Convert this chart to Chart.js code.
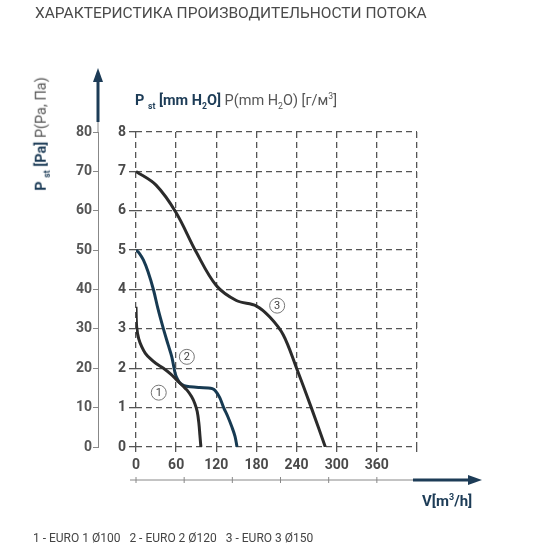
<!DOCTYPE html>
<html>
<head>
<meta charset="utf-8">
<script src="https://cdn.jsdelivr.net/npm/chart.js@4.4.1/dist/chart.umd.min.js"></script>
<style>
  html, body { margin: 0; padding: 0; background: #fff; }
  #wrap { position: relative; width: 550px; height: 550px; font-family: Roboto, "Noto Sans", sans-serif; }
  #wrap canvas { position: absolute; left: 0; top: 0; }
  .lbl { position: absolute; white-space: nowrap; line-height: 1; }
  .navy { color: #1d3c57; font-weight: bold; }
  .grey { color: #555; }
  #title { left: 35px; top: 6px; font-size: 15.5px; color: #4a4a4a; }
  #subtitle { left: 135px; top: 94px; font-size: 14.5px; }
  #ytitle { left: 42px; top: 134px; font-size: 14.5px; transform: translate(-50%, -50%) rotate(-90deg); }
  #vlabel { left: 422px; top: 494px; font-size: 15px; }
  #legend { left: 33px; top: 532px; font-size: 12px; color: #444; }
  sub, sup { font-size: 0.6em; line-height: 0; }
</style>
</head>
<body>
<div id="wrap">
  <canvas id="chart" width="550" height="550"></canvas>
  <div class="lbl" id="title">ХАРАКТЕРИСТИКА ПРОИЗВОДИТЕЛЬНОСТИ ПОТОКА</div>
  <div class="lbl" id="subtitle"><span class="navy">P <sub>st</sub> [mm H<sub>2</sub>O]</span> <span class="grey">P(mm H<sub>2</sub>O) [г/м<sup>3</sup>]</span></div>
  <div class="lbl" id="ytitle"><span class="navy">P <sub>st</sub> [Pa]</span> <span class="grey">P(Pa, Па)</span></div>
  <div class="lbl navy" id="vlabel">V[m<sup>3</sup>/h]</div>
  <div class="lbl" id="legend">1 - EURO 1 Ø100&nbsp;&nbsp; 2 - EURO 2 Ø120&nbsp;&nbsp; 3 - EURO 3 Ø150</div>
</div>
<script>
// flow in m3/h, pressure in mm H2O
const curve1Flow = [0, 1, 4, 8.5, 14, 21, 30, 41, 52, 61, 70, 76, 83, 88, 91.5, 94, 95.5, 97];
const curve1Pressure = [3.56, 3.05, 2.75, 2.55, 2.38, 2.25, 2.12, 2.0, 1.85, 1.7, 1.55, 1.45, 1.28, 1.1, 0.9, 0.6, 0.3, 0];

const curve2Flow = [0, 5, 11, 18, 26, 33, 41, 48, 53.5, 58.5, 62, 66, 72, 81, 95, 108, 114, 118.5, 125, 131, 137, 143.5, 148, 151];
const curve2Pressure = [5.0, 4.92, 4.75, 4.45, 4.0, 3.5, 3.0, 2.6, 2.29, 1.87, 1.72, 1.62, 1.56, 1.53, 1.51, 1.5, 1.48, 1.43, 1.26, 1.0, 0.78, 0.5, 0.27, 0];

const curve3Flow = [0, 30, 60, 90, 120, 150, 180, 200, 220, 240, 262, 283];
const curve3Pressure = [7.0, 6.65, 5.95, 4.95, 4.1, 3.72, 3.58, 3.3, 2.85, 2.0, 1.0, 0];

// circled curve numbers
const markText = ['1', '2', '3'];
const markFlow = [34, 76, 211];
const markPressure = [1.38, 2.29, 3.59];

const flowTicks = [0, 60, 120, 180, 240, 300, 360];
const flowMax = 420;
const pressureMax = 8;
const paMax = 80;

function toPoints(xs, ys) {
  return xs.map((x, i) => ({ x: x, y: ys[i] }));
}

function curve(xs, ys, color) {
  return {
    data: toPoints(xs, ys),
    borderColor: color,
    borderWidth: 3,
    pointRadius: 0,
    tension: 0.35,
    fill: false
  };
}

const decorations = {
  id: 'decorations',
  afterDraw(chart) {
    const ctx = chart.ctx;
    const area = chart.chartArea;
    const xs = chart.scales.x;
    const ax = chart.scales.y2.right;
    ctx.save();

    // vertical arrow above the Pa axis
    ctx.strokeStyle = '#888';
    ctx.lineWidth = 1;
    ctx.beginPath();
    ctx.moveTo(ax, area.top);
    ctx.lineTo(ax, area.top - 10);
    ctx.stroke();
    ctx.strokeStyle = '#1d3c57';
    ctx.lineWidth = 3;
    ctx.beginPath();
    ctx.moveTo(ax, area.top - 10);
    ctx.lineTo(ax, area.top - 52);
    ctx.stroke();
    ctx.fillStyle = '#1d3c57';
    ctx.beginPath();
    ctx.moveTo(ax, area.top - 64);
    ctx.lineTo(ax - 5, area.top - 50);
    ctx.lineTo(ax + 5, area.top - 50);
    ctx.closePath();
    ctx.fill();

    // horizontal flow axis below the labels
    const by = area.bottom + 33;
    ctx.strokeStyle = '#888';
    ctx.lineWidth = 1;
    ctx.beginPath();
    ctx.moveTo(area.left - 6, by);
    ctx.lineTo(413, by);
    ctx.stroke();
    const x0 = xs.getPixelForValue(flowTicks[0]);
    const x1 = xs.getPixelForValue(flowTicks[flowTicks.length - 1]);
    for (let i = 0; i <= 5; i++) {
      const tx = x0 + (x1 - x0) * i / 5;
      ctx.beginPath();
      ctx.moveTo(tx, by - 3);
      ctx.lineTo(tx, by + 3);
      ctx.stroke();
    }
    ctx.strokeStyle = '#1d3c57';
    ctx.lineWidth = 3;
    ctx.beginPath();
    ctx.moveTo(413, by);
    ctx.lineTo(470, by);
    ctx.stroke();
    ctx.beginPath();
    ctx.moveTo(482, by);
    ctx.lineTo(468, by - 5);
    ctx.lineTo(468, by + 5);
    ctx.closePath();
    ctx.fill();

    // numbers inside the circles
    const meta = chart.getDatasetMeta(3);
    ctx.fillStyle = '#444';
    ctx.font = '11px Roboto';
    ctx.textAlign = 'center';
    ctx.textBaseline = 'middle';
    meta.data.forEach((pt, i) => {
      ctx.fillText(markText[i], pt.x, pt.y + 0.5);
    });
    ctx.restore();
  }
};

new Chart(document.getElementById('chart'), {
  type: 'line',
  data: {
    datasets: [
      curve(curve1Flow, curve1Pressure, '#2b2b2b'),
      curve(curve2Flow, curve2Pressure, '#173a52'),
      curve(curve3Flow, curve3Pressure, '#2b2b2b'),
      {
        type: 'scatter',
        data: toPoints(markFlow, markPressure),
        pointRadius: 7.5,
        pointBorderWidth: 1,
        pointBorderColor: '#777',
        pointBackgroundColor: '#fff',
        showLine: false
      }
    ]
  },
  options: {
    responsive: false,
    animation: false,
    layout: { padding: { top: 132, right: 133, bottom: 0, left: 0 } },
    plugins: { legend: { display: false }, tooltip: { enabled: false } },
    scales: {
      x: {
        type: 'linear',
        min: 0,
        max: flowMax,
        afterBuildTicks: s => { s.ticks = flowTicks.concat([flowMax]).map(v => ({ value: v })); },
        afterFit: s => { s.height = 103; },
        ticks: {
          callback: v => (flowTicks.includes(v) ? v : ''),
          font: { family: 'Roboto', size: 14, weight: 'bold' },
          color: '#4a4a4a',
          padding: 5,
          maxRotation: 0
        },
        grid: { color: '#555', lineWidth: 1.3, tickLength: 5 },
        border: { display: false, dash: [6, 4] }
      },
      y: {
        min: 0,
        max: pressureMax,
        weight: 0,
        afterFit: s => { s.width = 38; },
        ticks: {
          stepSize: 1,
          font: { family: 'Roboto', size: 14, weight: 'bold' },
          color: '#4a4a4a',
          padding: 3
        },
        grid: { color: '#555', lineWidth: 1.3, tickLength: 7 },
        border: { display: false, dash: [6, 4] }
      },
      y2: {
        position: 'left',
        min: 0,
        max: paMax,
        weight: 1,
        afterFit: s => { s.width = 98; },
        ticks: {
          stepSize: 10,
          font: { family: 'Roboto', size: 14, weight: 'bold' },
          color: '#555',
          padding: 1
        },
        grid: { drawOnChartArea: false, color: '#888', tickLength: 5 },
        border: { display: true, color: '#888', width: 1 }
      }
    }
  },
  plugins: [decorations]
});
</script>
</body>
</html>
